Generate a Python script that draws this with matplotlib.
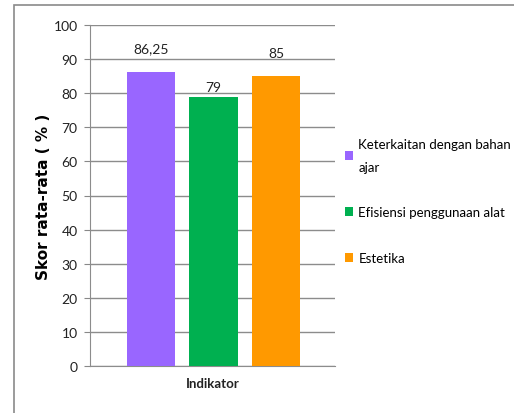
import matplotlib
matplotlib.use("Agg")
from matplotlib import pyplot as plt
from matplotlib.patches import Rectangle

kategori = ["Keterkaitan dengan bahan\najar", "Efisiensi penggunaan alat", "Estetika"]
skor = [86.25, 79, 85]
label_skor = ["86,25", "79", "85"]
warna = ["#9966FF", "#00B050", "#FF9900"]
label_offset = [12.5, 2.5, 12.5]  # points above bar top
yticks = list(range(0, 101, 10))

plt.rcParams["font.family"] = ["Lato", "DejaVu Sans"]

fig = plt.figure(figsize=(5.14, 4.14), dpi=100)
fig.patches.append(Rectangle((14 / 514, -0.1), 1.2, (414 - 6) / 414 + 0.1,
                             transform=fig.transFigure, fill=False,
                             edgecolor="#8a8a8a", linewidth=1.2))

ax = fig.add_axes([90 / 514, 47 / 414, 245 / 514, 341 / 414])
x = range(len(skor))
bars = ax.bar(x, skor, width=0.77, color=warna, label=kategori, zorder=3)
for b, t, off in zip(bars, label_skor, label_offset):
    ax.annotate(t, (b.get_x() + b.get_width() / 2, b.get_height()),
                xytext=(0, off), textcoords="offset points",
                ha="center", va="bottom", fontsize=10, color="#222222")

ax.set_xlim(-0.976, 2.944)
ax.set_ylim(0, 100)
ax.set_yticks(yticks)
ax.tick_params(axis="y", length=4, color="#888888", labelsize=10,
               labelcolor="#222222", pad=5)
ax.set_xticks([])
ax.grid(axis="y", color="#8c8c8c", linewidth=1, zorder=0)
ax.set_axisbelow(True)
for s in ["top", "right"]:
    ax.spines[s].set_visible(False)
ax.spines["left"].set_color("#8c8c8c")
ax.spines["bottom"].set_color("#8c8c8c")

ax.set_ylabel("Skor rata-rata ( % )", fontsize=11, fontweight="bold",
              family="DejaVu Sans", labelpad=2)
ax.set_xlabel("Indikator", fontsize=9.5, fontweight="bold", color="#222222", labelpad=8)

leg = ax.legend(loc="upper left", bbox_to_anchor=(1.02, 0.685), frameon=False,
                fontsize=9.5, handlelength=0.6, handleheight=0.7, handletextpad=0.4,
                labelspacing=2.55, borderaxespad=0)
for t in leg.get_texts():
    t.set_linespacing(2.1)

fig.savefig("out.png", dpi=100)
